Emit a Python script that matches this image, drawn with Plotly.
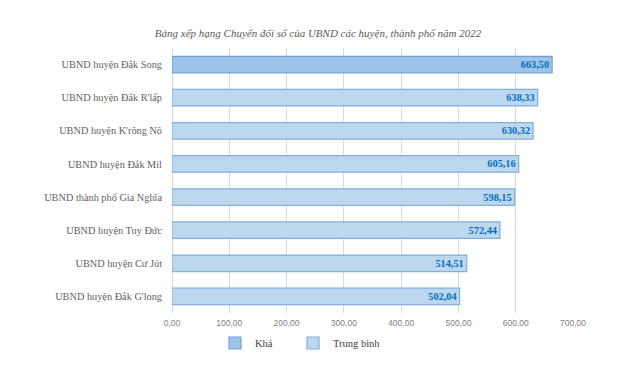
import plotly.graph_objects as go

categories = [
    "UBND huyện Đắk Song",
    "UBND huyện Đắk R'lấp",
    "UBND huyện K'rông Nô",
    "UBND huyện Đắk Mil",
    "UBND thành phố Gia Nghĩa",
    "UBND huyện Tuy Đức",
    "UBND huyện Cư Jút",
    "UBND huyện Đắk G'long",
]
scores = [663.50, 638.33, 630.32, 605.16, 598.15, 572.44, 514.51, 502.04]
ratings = ["Khá", "Trung bình", "Trung bình", "Trung bình", "Trung bình", "Trung bình", "Trung bình", "Trung bình"]
tick_values = [0, 100, 200, 300, 400, 500, 600, 700]

styles = {
    "Khá": dict(fill="#9DC3E6", line="#6FA3D8", legend="legend", text_x=255),
    "Trung bình": dict(fill="#BDD7EE", line="#7FB0DE", legend="legend2", text_x=333),
}

fig = go.Figure()
for rating in ["Khá", "Trung bình"]:
    ys = [c for c, r in zip(categories, ratings) if r == rating]
    xs = [v for v, r in zip(scores, ratings) if r == rating]
    fig.add_trace(go.Bar(
        x=xs, y=ys, orientation="h", name=rating, legend=styles[rating]["legend"],
        marker=dict(color=styles[rating]["fill"], line=dict(color=styles[rating]["line"], width=1.2)),
        texttemplate="%{x:.2f}", textposition="inside", insidetextanchor="end",
        textfont=dict(family="Liberation Serif", size=10.3, color="#0070C0", weight="bold"),
        constraintext="none",
    ))

L, R, T, B = 172, 47, 48, 52
plot_w = 620 - L - R
plot_h = 365 - T - B

legend_common = dict(
    orientation="h", xanchor="left",
    y=-(343 - (365 - B)) / plot_h, yanchor="middle",
    font=dict(family="Liberation Serif", size=10.5, color="#404040"),
    itemwidth=30, bgcolor="rgba(0,0,0,0)",
)

fig.update_layout(
    width=620, height=365,
    margin=dict(l=L, r=R, t=T, b=B, autoexpand=False),
    paper_bgcolor="white", plot_bgcolor="white",
    separators=",.",
    barmode="relative", bargap=0.5,
    title=dict(
        text="<i>Bảng xếp hạng Chuyển đổi số của UBND các huyện, thành phố năm 2022</i>",
        x=318 / 620, xanchor="center", y=1 - 33 / 365, yanchor="middle",
        font=dict(family="Liberation Serif", size=11, color="#595959"),
    ),
    xaxis=dict(
        range=[0, 700], tickvals=tick_values, tickformat=".2f",
        showgrid=True, gridcolor="#D9D9D9", gridwidth=1,
        zeroline=True, zerolinecolor="#D9D9D9", zerolinewidth=1,
        showline=False, ticks="", automargin=False, ticklabelstandoff=3,
        tickfont=dict(family="Liberation Sans", size=8.5, color="#7F7F7F"),
    ),
    yaxis=dict(
        categoryorder="array", categoryarray=categories, autorange="reversed",
        showgrid=False, showline=False, ticks="", ticklabelstandoff=9, automargin=False,
        tickfont=dict(family="Liberation Serif", size=10.3, color="#5F5F5F"),
    ),
    legend=dict(legend_common, x=(styles["Khá"]["text_x"] - 40 - L) / plot_w),
    legend2=dict(legend_common, x=(styles["Trung bình"]["text_x"] - 40 - L) / plot_w),
    showlegend=True,
)

fig.write_html(
    "out.html",
    config={"displayModeBar": False},
    post_script="document.body.style.margin='0px';",
)
